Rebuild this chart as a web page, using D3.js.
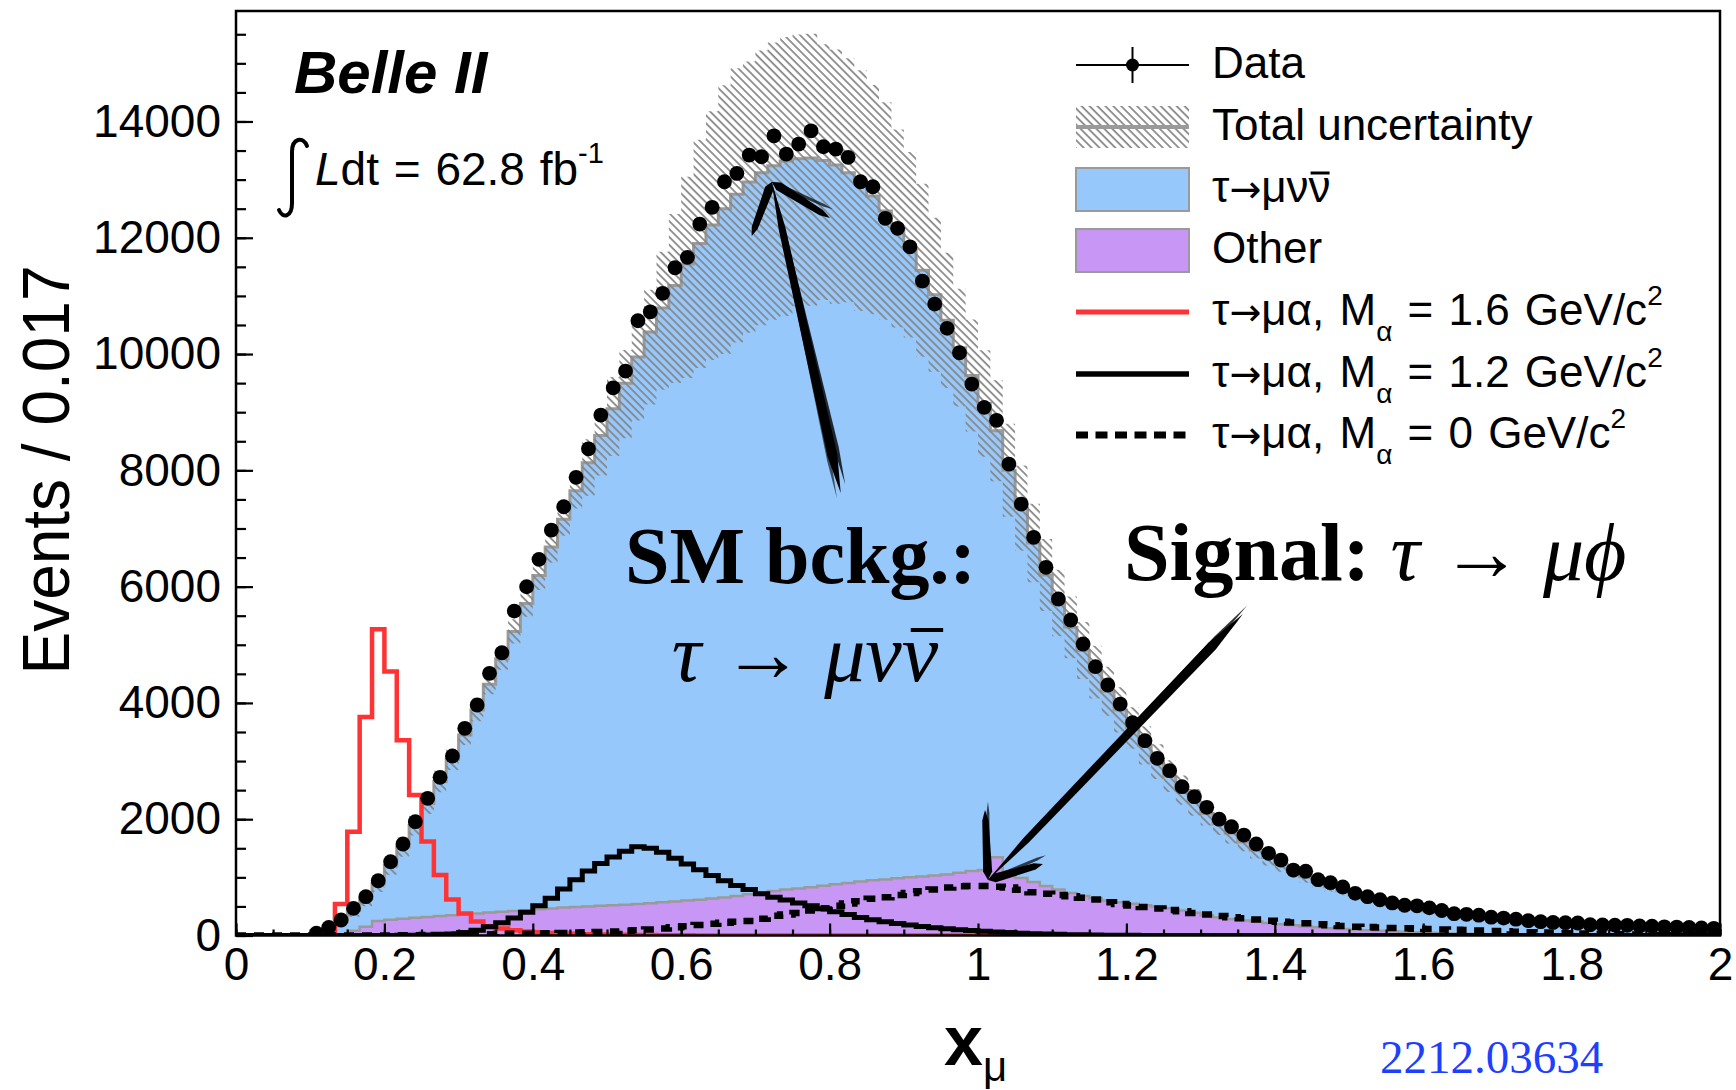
<!DOCTYPE html>
<html>
<head>
<meta charset="utf-8">
<script src="https://cdn.jsdelivr.net/npm/d3@7"></script>
<style>
  body { margin: 0; background: #fff; }
  svg { display: block; font-family: "Liberation Sans", Arial, sans-serif; }
</style>
</head>
<body>
<div id="chart"></div>
<script>
// Histogram binning: 120 bins on x_mu in [0, 2]
const nBins = 120, xMin = 0, xMax = 2;

const dataCounts = [
  0, 0, 0, 0, 0, 0, 40, 140, 267, 468,
  667, 942, 1269, 1574, 1957, 2359, 2720, 3087, 3563, 3964,
  4509, 4863, 5580, 5998, 6469, 6973, 7374, 7880, 8370, 8951,
  9420, 9708, 10573, 10727, 11044, 11484, 11663, 12235, 12523, 12963,
  13107, 13422, 13393, 13754, 13439, 13611, 13840, 13565, 13525, 13383,
  12963, 12877, 12334, 12162, 11845, 11255, 10860, 10442, 10022, 9484,
  9083, 8860, 8108, 7420, 6848, 6332, 5787, 5426, 5013, 4623,
  4308, 3981, 3660, 3350, 3047, 2834, 2559, 2387, 2205, 2000,
  1871, 1728, 1574, 1413, 1298, 1126, 1105, 960, 908, 835,
  726, 667, 615, 560, 520, 510, 475, 430, 375, 365,
  350, 315, 300, 280, 255, 238, 225, 220, 215, 185,
  181, 178, 175, 165, 160, 150, 145, 138, 130, 124
];

// top of the MC stack (tau->mu nu nu + other)
const mcTotal = [
  0, 0, 0, 0, 0, 5, 30, 110, 240, 430,
  630, 890, 1200, 1520, 1890, 2270, 2650, 3030, 3450, 3880,
  4320, 4760, 5230, 5710, 6190, 6680, 7160, 7650, 8130, 8600,
  9060, 9500, 9950, 10380, 10790, 11180, 11550, 11900, 12220, 12500,
  12750, 12960, 13120, 13240, 13320, 13360, 13370, 13330, 13250, 13120,
  12940, 12720, 12460, 12160, 11820, 11440, 11020, 10580, 10110, 9630,
  9150, 8680, 8000, 7350, 6750, 6200, 5720, 5300, 4900, 4530,
  4200, 3880, 3570, 3270, 2990, 2740, 2500, 2290, 2100, 1920,
  1760, 1610, 1470, 1340, 1220, 1110, 1010, 920, 840, 770,
  700, 640, 585, 535, 490, 455, 420, 390, 360, 335,
  310, 290, 270, 250, 235, 220, 205, 195, 185, 175,
  165, 158, 150, 145, 140, 135, 130, 125, 120, 115
];

const mcOther = [
  0, 0, 0, 0, 0, 0, 0, 0, 20, 80,
  150, 250, 270, 290, 305, 320, 335, 350, 365, 380,
  395, 410, 420, 435, 450, 465, 480, 490, 500, 510,
  520, 530, 540, 555, 570, 585, 600, 615, 635, 655,
  680, 710, 740, 765, 790, 810, 830, 855, 880, 905,
  930, 950, 965, 985, 1000, 1015, 1030, 1050, 1080, 1110,
  1126, 1345, 1100, 990, 920, 850, 790, 730, 680, 640,
  600, 570, 545, 520, 500, 470, 430, 390, 350, 315,
  285, 260, 240, 215, 195, 175, 155, 140, 125, 112,
  100, 90, 80, 72, 65, 55, 48, 42, 36, 30,
  25, 20, 16, 12, 10, 8, 6, 5, 4, 3,
  2, 2, 1, 1, 1, 0, 0, 0, 0, 0
];

// signal tau -> mu alpha, M = 1.6 GeV/c^2
const sigM16 = [
  0, 0, 0, 0, 0, 0, 0, 60, 540, 1785,
  3760, 5265, 4540, 3360, 2415, 1615, 1040, 620, 380, 240,
  160, 120, 90, 70, 55, 45, 35, 28, 22, 18,
  14, 11, 9, 7, 5, 4, 3, 2, 2, 1,
  0, 0, 0, 0, 0, 0, 0, 0, 0, 0,
  0, 0, 0, 0, 0, 0, 0, 0, 0, 0,
  0, 0, 0, 0, 0, 0, 0, 0, 0, 0,
  0, 0, 0, 0, 0, 0, 0, 0, 0, 0,
  0, 0, 0, 0, 0, 0, 0, 0, 0, 0,
  0, 0, 0, 0, 0, 0, 0, 0, 0, 0,
  0, 0, 0, 0, 0, 0, 0, 0, 0, 0,
  0, 0, 0, 0, 0, 0, 0, 0, 0, 0
];

// signal M = 1.2 GeV/c^2
const sigM12 = [
  0, 0, 0, 0, 0, 0, 0, 0, 0, 0,
  0, 0, 2, 4, 6, 8, 12, 25, 50, 90,
  150, 220, 300, 400, 510, 640, 800, 960, 1110, 1240,
  1350, 1450, 1525, 1500, 1430, 1330, 1230, 1130, 1030, 940,
  860, 790, 720, 660, 610, 560, 510, 460, 410, 360,
  310, 270, 235, 205, 180, 155, 135, 115, 100, 85,
  72, 60, 50, 40, 32, 25, 20, 15, 11, 8,
  6, 4, 3, 2, 1, 0, 0, 0, 0, 0,
  0, 0, 0, 0, 0, 0, 0, 0, 0, 0,
  0, 0, 0, 0, 0, 0, 0, 0, 0, 0,
  0, 0, 0, 0, 0, 0, 0, 0, 0, 0,
  0, 0, 0, 0, 0, 0, 0, 0, 0, 0
];

// signal M = 0 GeV/c^2
const sigM0 = [
  0, 0, 0, 0, 0, 0, 0, 0, 0, 0,
  0, 0, 2, 4, 6, 8, 10, 12, 15, 18,
  20, 24, 28, 32, 36, 40, 45, 50, 56, 62,
  70, 80, 90, 105, 120, 140, 160, 180, 200, 220,
  235, 250, 290, 340, 360, 385, 430, 470, 510, 550,
  590, 630, 660, 695, 730, 760, 790, 825, 845, 850,
  850, 840, 825, 785, 745, 720, 695, 675, 650, 620,
  570, 540, 515, 490, 465, 440, 415, 385, 360, 335,
  315, 295, 275, 255, 238, 225, 210, 195, 175, 163,
  152, 145, 138, 128, 124, 118, 112, 104, 97, 94,
  85, 78, 72, 65, 58, 52, 46, 40, 35, 30,
  25, 20, 16, 12, 9, 7, 5, 3, 2, 1
];

// total uncertainty on the MC stack, in percent (up / down)
const uncUpPct = [
  0, 0, 0, 0, 0, 40, 40, 40, 30, 25,
  20, 16, 13, 11, 9, 8, 7, 6, 5, 5,
  4, 4, 4, 4, 4, 4, 4, 4, 5, 5,
  6, 6, 7, 7, 9, 11, 13, 15, 16, 17,
  17, 16, 16, 16, 16, 16, 16, 15, 15, 15,
  15, 15, 15, 14, 14, 13, 12, 11, 10, 10,
  10, 10, 10, 10, 10, 10, 10, 10, 10, 10,
  10, 10, 10, 10, 10, 10, 10, 10, 10, 10,
  10, 10, 10, 10, 10, 10, 10, 10, 10, 10,
  10, 10, 10, 10, 10, 10, 10, 10, 10, 10,
  10, 10, 10, 10, 10, 10, 10, 10, 10, 10,
  10, 10, 10, 10, 10, 10, 10, 10, 10, 10
];
const uncDnPct = [
  0, 0, 0, 0, 0, 40, 40, 40, 30, 25,
  20, 16, 13, 11, 9, 8, 7, 6, 5, 5,
  4, 4, 4, 4, 4, 4, 4, 4, 7, 8,
  9, 10, 11, 12, 13, 15, 17, 18, 19, 20,
  20, 20, 20, 20, 20, 19, 19, 18, 18, 17,
  17, 16, 15, 14, 13, 13, 12, 11, 10, 10,
  10, 10, 10, 10, 10, 10, 10, 10, 10, 10,
  10, 10, 10, 10, 10, 10, 10, 10, 10, 10,
  10, 10, 10, 10, 10, 10, 10, 10, 10, 10,
  10, 10, 10, 10, 10, 10, 10, 10, 10, 10,
  10, 10, 10, 10, 10, 10, 10, 10, 10, 10,
  10, 10, 10, 10, 10, 10, 10, 10, 10, 10
];

const xTicks = [0, 0.2, 0.4, 0.6, 0.8, 1, 1.2, 1.4, 1.6, 1.8, 2];
const xTickLabels = ["0", "0.2", "0.4", "0.6", "0.8", "1", "1.2", "1.4", "1.6", "1.8", "2"];
const yTicks = [0, 2000, 4000, 6000, 8000, 10000, 12000, 14000];
const yTickLabels = ["0", "2000", "4000", "6000", "8000", "10000", "12000", "14000"];
const yMaxPlot = 15900;

// colours
const cBlue = "#96c8fb", cPurple = "#c896f5", cGray = "#9a9a9a", cRed = "#ff3333";

// Set dimensions of canvas and svg area
const owidth = 1736, oheight = 1090;
const margin = { top: 11, left: 236, right: 16, bottom: 154.5 };
const width = owidth - margin.left - margin.right;
const height = oheight - margin.top - margin.bottom;

const svg = d3.select("#chart").append("svg")
  .attr("width", owidth)
  .attr("height", oheight);

const defs = svg.append("defs");
// hatch pattern for the uncertainty band ("\\\\" direction)
const hatch = defs.append("pattern")
  .attr("id", "hatch")
  .attr("patternUnits", "userSpaceOnUse")
  .attr("width", 5.6).attr("height", 5.6)
  .attr("patternTransform", "rotate(-45)");
hatch.append("line")
  .attr("x1", 1).attr("y1", 0).attr("x2", 1).attr("y2", 5.6)
  .attr("stroke", "#858585").attr("stroke-width", 1.7);
defs.append("clipPath").attr("id", "plotclip")
  .append("rect").attr("width", width).attr("height", height);

const canvas = svg.append("g")
  .attr("transform", `translate(${margin.left}, ${margin.top})`);

// scales
const xSc = d3.scaleLinear().domain([xMin, xMax]).range([0, width]);
const ySc = d3.scaleLinear().domain([0, yMaxPlot]).range([height, 0]);

const binW = (xMax - xMin) / nBins;
const edges = d3.range(nBins + 1).map(i => xMin + i * binW);
const stepPts = vals => vals.flatMap((v, i) => [[edges[i], v], [edges[i + 1], v]]);
const stepLine = d3.line().x(d => xSc(d[0])).y(d => ySc(d[1]));
const stepArea = d3.area().x(d => xSc(d[0])).y0(ySc(0)).y1(d => ySc(d[1]));

const plot = canvas.append("g").attr("clip-path", "url(#plotclip)");

// stacked MC: tau->mu nu nu on top of Other
plot.append("path").attr("d", stepArea(stepPts(mcTotal))).attr("fill", cBlue);
plot.append("path").attr("d", stepLine(stepPts(mcTotal)))
  .attr("fill", "none").attr("stroke", cGray).attr("stroke-width", 3);
plot.append("path").attr("d", stepArea(stepPts(mcOther))).attr("fill", cPurple);
plot.append("path").attr("d", stepLine(stepPts(mcOther)))
  .attr("fill", "none").attr("stroke", cGray).attr("stroke-width", 2.5);

// uncertainty band
const bandPts = mcTotal.flatMap((v, i) => {
  const hi = v * (1 + uncUpPct[i] / 100), lo = v * (1 - uncDnPct[i] / 100);
  return [[edges[i], lo, hi], [edges[i + 1], lo, hi]];
});
plot.append("path")
  .attr("d", d3.area().x(d => xSc(d[0])).y0(d => ySc(d[1])).y1(d => ySc(d[2]))(bandPts))
  .attr("fill", "url(#hatch)");

// signal histograms
plot.append("path").attr("d", stepLine(stepPts(sigM16)))
  .attr("fill", "none").attr("stroke", cRed).attr("stroke-width", 4.5);
plot.append("path").attr("d", stepLine(stepPts(sigM12)))
  .attr("fill", "none").attr("stroke", "#000").attr("stroke-width", 5);
plot.append("path").attr("d", stepLine(stepPts(sigM0)))
  .attr("fill", "none").attr("stroke", "#000").attr("stroke-width", 6.5)
  .attr("stroke-dasharray", "10,8");

// data points
plot.append("g").selectAll("circle")
  .data(dataCounts.map((v, i) => ({ x: (edges[i] + edges[i + 1]) / 2, v })).filter(d => d.v > 0))
  .join("circle")
  .attr("cx", d => xSc(d.x))
  .attr("cy", d => ySc(d.v))
  .attr("r", 7.4)
  .attr("fill", "#000");

// axes: major and minor ticks pointing inward
const xMinor = d3.range(0, 2.0001, 0.05);
const yMinor = d3.range(0, yMaxPlot, 500);
const xAx = canvas.append("g").attr("transform", `translate(0, ${height})`);
xAx.append("g")
  .call(d3.axisBottom(xSc).tickValues(xMinor).tickSize(-6).tickSizeOuter(0).tickFormat(""))
  .call(g => g.select(".domain").remove());
xAx.append("g")
  .call(d3.axisBottom(xSc).tickValues(xTicks).tickSize(-12).tickSizeOuter(0).tickPadding(12)
    .tickFormat((d, i) => xTickLabels[i]))
  .call(g => g.select(".domain").remove());
const yAx = canvas.append("g");
yAx.append("g")
  .call(d3.axisLeft(ySc).tickValues(yMinor).tickSize(-10).tickSizeOuter(0).tickFormat(""))
  .call(g => g.select(".domain").remove());
yAx.append("g")
  .call(d3.axisLeft(ySc).tickValues(yTicks).tickSize(-17).tickSizeOuter(0).tickPadding(15)
    .tickFormat((d, i) => yTickLabels[i]))
  .call(g => g.select(".domain").remove());
canvas.selectAll(".tick line").attr("stroke", "#000").attr("stroke-width", 2.2);
canvas.selectAll(".tick text")
  .attr("font-family", "Liberation Sans, Arial, sans-serif")
  .attr("font-size", 46).attr("fill", "#000");

// frame
canvas.append("rect")
  .attr("width", width).attr("height", height)
  .attr("fill", "none").attr("stroke", "#000").attr("stroke-width", 2.5);

// axis titles
svg.append("text")
  .attr("transform", "translate(69, 470) rotate(-90)")
  .attr("text-anchor", "middle")
  .attr("font-size", 66)
  .attr("textLength", 409).attr("lengthAdjust", "spacingAndGlyphs")
  .text("Events / 0.017");
const xt = svg.append("text").attr("x", 944).attr("y", 1065);
xt.append("tspan").attr("font-size", 70).attr("font-weight", "bold").text("x");
xt.append("tspan").attr("font-size", 42).attr("dy", 16).text("\u03BC");

// experiment labels
svg.append("text")
  .attr("x", 294).attr("y", 93)
  .attr("font-size", 60).attr("font-weight", "bold").attr("font-style", "italic")
  .text("Belle II");
svg.append("path")
  .attr("d", "M307,146 C303,136 292,138 292,152 L292,203 C292,217 283,219 279,210")
  .attr("fill", "none").attr("stroke", "#000").attr("stroke-width", 4).attr("stroke-linecap", "round");
const lum = svg.append("text").attr("x", 315).attr("y", 185)
  .attr("font-size", 46).attr("word-spacing", 2);
lum.append("tspan").attr("font-style", "italic").text("L");
lum.append("tspan").text("dt = 62.8 fb");
lum.append("tspan").attr("font-size", 29).attr("dy", -22).text("-1");

// legend
const lgX0 = 1076, lgX1 = 1189, lgText = 1212, lgFont = 44;
const lgRows = [65, 127, 189, 250, 312, 374, 435];
const legendLabels = ["Data", "Total uncertainty", "\u03C4\u2192\u03BC\u03BD\u03BD", "Other"];
const legendMasses = ["1.6", "1.2", "0"];
const lg = svg.append("g");
// data entry
lg.append("line").attr("x1", lgX0).attr("x2", lgX1).attr("y1", lgRows[0]).attr("y2", lgRows[0])
  .attr("stroke", "#000").attr("stroke-width", 2);
lg.append("line").attr("x1", (lgX0 + lgX1) / 2).attr("x2", (lgX0 + lgX1) / 2)
  .attr("y1", lgRows[0] - 18).attr("y2", lgRows[0] + 18).attr("stroke", "#000").attr("stroke-width", 2);
lg.append("circle").attr("cx", (lgX0 + lgX1) / 2).attr("cy", lgRows[0]).attr("r", 6.5);
// uncertainty entry
lg.append("rect").attr("x", lgX0).attr("y", lgRows[1] - 21).attr("width", lgX1 - lgX0).attr("height", 42)
  .attr("fill", "url(#hatch)");
lg.append("line").attr("x1", lgX0).attr("x2", lgX1).attr("y1", lgRows[1]).attr("y2", lgRows[1])
  .attr("stroke", cGray).attr("stroke-width", 4);
// filled entries
[[lgRows[2], cBlue], [lgRows[3], cPurple]].forEach(([y, c]) => {
  lg.append("rect").attr("x", lgX0).attr("y", y - 21).attr("width", lgX1 - lgX0).attr("height", 43)
    .attr("fill", c).attr("stroke", cGray).attr("stroke-width", 2);
});
// line entries
lg.append("line").attr("x1", lgX0).attr("x2", lgX1).attr("y1", lgRows[4]).attr("y2", lgRows[4])
  .attr("stroke", cRed).attr("stroke-width", 5);
lg.append("line").attr("x1", lgX0).attr("x2", lgX1).attr("y1", lgRows[5]).attr("y2", lgRows[5])
  .attr("stroke", "#000").attr("stroke-width", 5.5);
lg.append("line").attr("x1", lgX0).attr("x2", lgX1).attr("y1", lgRows[6]).attr("y2", lgRows[6])
  .attr("stroke", "#000").attr("stroke-width", 7).attr("stroke-dasharray", "12,7.5");

// "tau -> mu ..." prefix with a wider arrow glyph
const decayPrefix = (el, tail) => {
  el.append("tspan").text("\u03C4");
  el.append("tspan").attr("font-family", "DejaVu Sans").attr("font-size", 38).text("\u2192");
  el.append("tspan").text(tail);
};
legendLabels.forEach((t, i) => {
  const el = lg.append("text").attr("x", lgText).attr("y", lgRows[i] + 13).attr("font-size", lgFont);
  if (i === 2) {
    decayPrefix(el, "\u03BC\u03BD\u03BD");
    // bar over the last nu
    const n = el.node(), last = n.getNumberOfChars() - 1;
    const s = n.getStartPositionOfChar(last).x, e = n.getEndPositionOfChar(last).x;
    lg.append("line").attr("x1", s + 2).attr("x2", e - 1)
      .attr("y1", lgRows[i] - 16).attr("y2", lgRows[i] - 16)
      .attr("stroke", "#000").attr("stroke-width", 3);
  } else {
    el.text(t);
  }
});
legendMasses.forEach((m, k) => {
  const el = lg.append("text").attr("x", lgText).attr("y", lgRows[4 + k] + 13)
    .attr("font-size", lgFont).attr("word-spacing", 3);
  decayPrefix(el, "\u03BC\u03B1, M");
  el.append("tspan").attr("font-size", 28).attr("dy", 16).text("\u03B1");
  el.append("tspan").attr("dy", -16).text(` = ${m} GeV/c`);
  el.append("tspan").attr("font-size", 28).attr("dy", -20).text("2");
});

// hand-drawn annotations
const serif = "Liberation Serif, Times New Roman, serif";
svg.append("text").attr("x", 625).attr("y", 583)
  .attr("font-family", serif).attr("font-size", 80).attr("font-weight", "bold")
  .text("SM bckg.:");
const smDecay = svg.append("text").attr("x", 805).attr("y", 681).attr("text-anchor", "middle")
  .attr("font-family", serif).attr("font-size", 82).attr("font-style", "italic")
  .text("\u03C4 \u2192 \u03BC\u03BD\u03BD");
{
  const n = smDecay.node(), last = n.getNumberOfChars() - 1;
  const s = n.getStartPositionOfChar(last).x, e = n.getEndPositionOfChar(last).x;
  svg.append("line").attr("x1", s + 9).attr("x2", e + 5).attr("y1", 630).attr("y2", 630)
    .attr("stroke", "#000").attr("stroke-width", 4);
}
const sig = svg.append("text").attr("x", 1124).attr("y", 580)
  .attr("font-family", serif).attr("font-size", 82);
sig.append("tspan").attr("font-weight", "bold").text("Signal: ");
sig.append("tspan").attr("font-style", "italic").text("\u03C4 \u2192 \u03BC\u03D5");

// sketchy arrows, anchored in data coordinates
const stroke = (p0, p1, w) => {
  const a0 = [xSc(p0[0]), ySc(p0[1])], a1 = [xSc(p1[0]), ySc(p1[1])];
  const dx = a1[0] - a0[0], dy = a1[1] - a0[1], L = Math.hypot(dx, dy);
  const nx = -dy / L * w / 2, ny = dx / L * w / 2;
  const m1 = [a0[0] + dx * 0.12, a0[1] + dy * 0.12], m2 = [a0[0] + dx * 0.85, a0[1] + dy * 0.85];
  return `M${a0[0]},${a0[1]}L${m1[0] + nx},${m1[1] + ny}L${m2[0] + nx * 0.7},${m2[1] + ny * 0.7}` +
    `L${a1[0]},${a1[1]}L${m2[0] - nx * 0.7},${m2[1] - ny * 0.7}L${m1[0] - nx},${m1[1] - ny}Z`;
};
const arrows = [
  // SM background arrow: tail, tip, two barbs
  { tail: [0.815, 7610], tip: [0.722, 12960], barbs: [[0.695, 12030], [0.8005, 12340]] },
  // signal arrow
  { tail: [1.357, 5530], tip: [1.0135, 955], barbs: [[1.0094, 2158], [1.0876, 1230]] }
];
const arrG = canvas.append("g").attr("fill", "#000");
arrows.forEach(a => {
  arrG.append("path").attr("d", stroke(a.tail, a.tip, 10));
  arrG.append("path").attr("d", stroke([a.tail[0] + 0.006, a.tail[1] + 150], a.tip, 5)).attr("opacity", 0.8);
  arrG.append("path").attr("d", stroke([a.tail[0] - 0.005, a.tail[1] - 100], a.tip, 4)).attr("opacity", 0.6);
  a.barbs.forEach(b => {
    arrG.append("path").attr("d", stroke(a.tip, b, 9));
    arrG.append("path").attr("d", stroke(a.tip, [b[0] + 0.004, b[1] + 150], 4)).attr("opacity", 0.7);
  });
});

// arXiv reference
svg.append("text").attr("x", 1380).attr("y", 1073)
  .attr("font-family", serif).attr("font-size", 47).attr("fill", "#1f3fff")
  .text("2212.03634");
</script>
</body>
</html>
